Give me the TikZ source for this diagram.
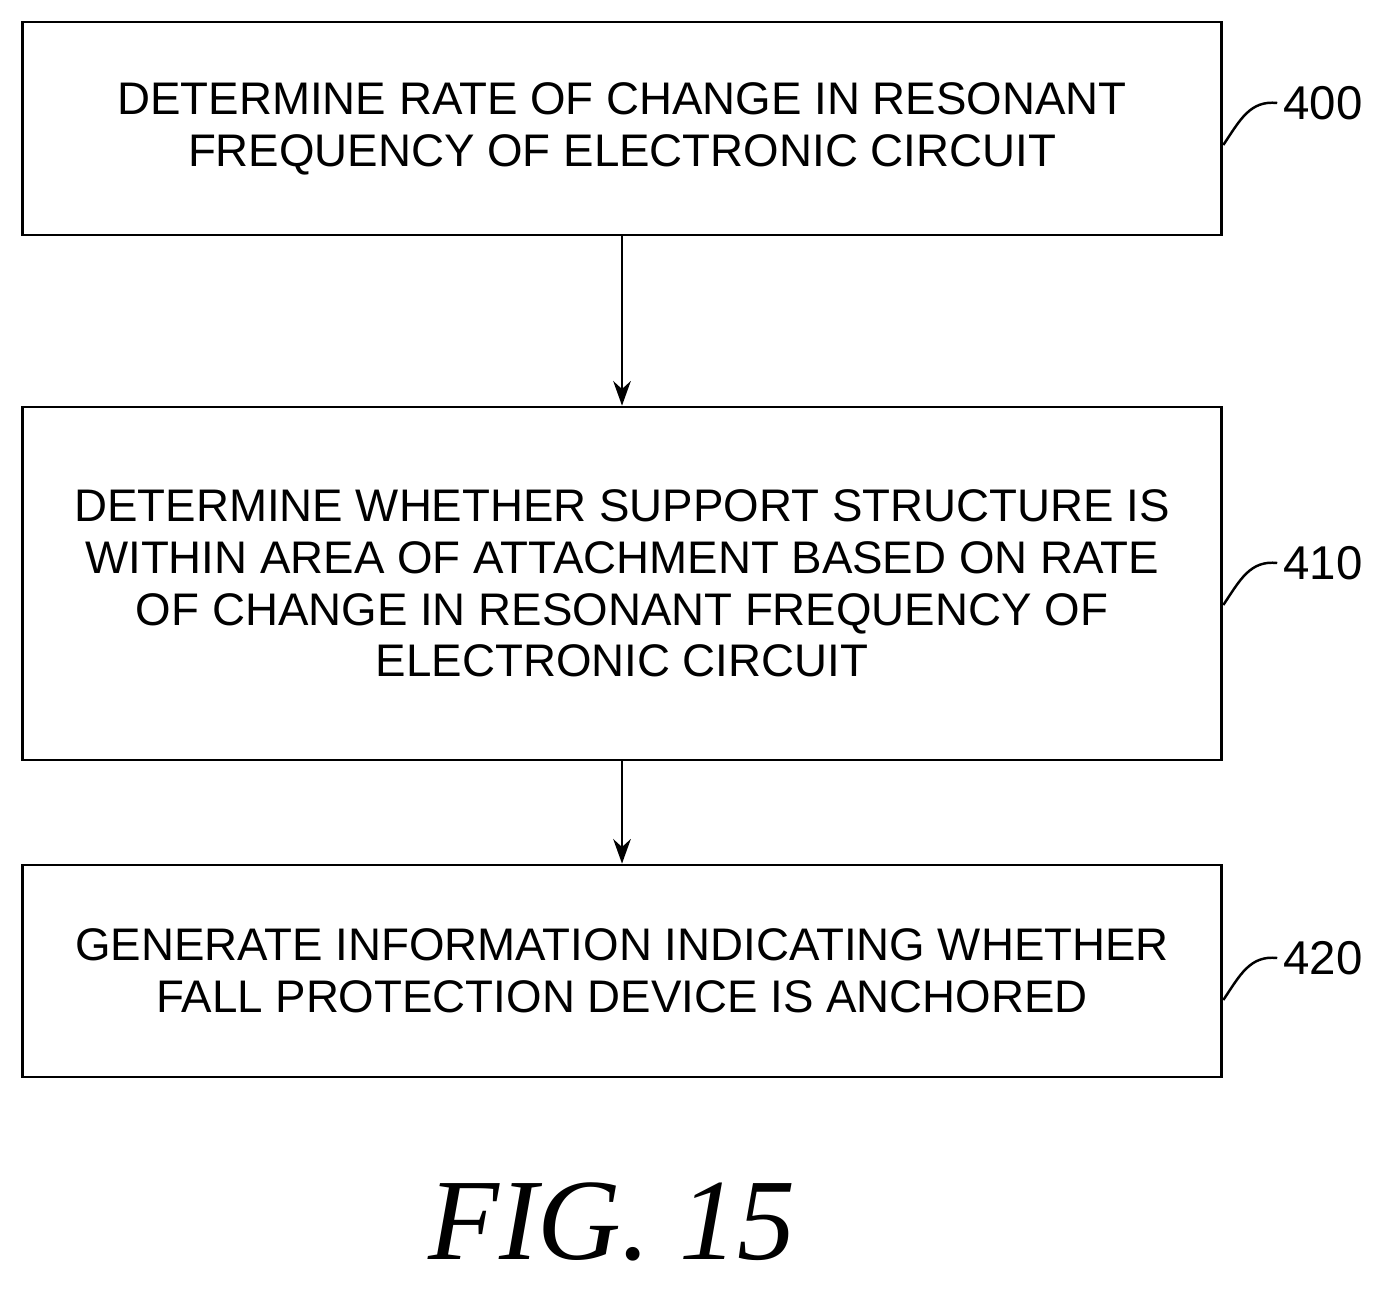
\documentclass[tikz,border=0pt]{standalone}
\usepackage{fontspec}
\setmainfont{Liberation Sans}
\newfontfamily\figfont{Liberation Serif}
\usetikzlibrary{arrows.meta}
\begin{document}
\begin{tikzpicture}[
		x=0.02cm,y=-0.02cm,
		stage/.style = {draw, line width=1.6pt, minimum width=24cm, align=center,
			font=\fontsize{26}{29.5}\selectfont, inner sep=0pt},
		flow/.style = {-{Stealth[length=14pt,width=10pt]}, line width=1.4pt},
		tag/.style = {font=\fontsize{27}{27}\selectfont},
		lead/.style = {line width=1.4pt}
	]
	\useasboundingbox (0,0) rectangle (1381,1296);
	\node (s400) [stage, minimum height=4.26cm] at (622,128.5) {DETERMINE RATE OF CHANGE IN RESONANT\\FREQUENCY OF ELECTRONIC CIRCUIT};
	\node (s410) [stage, minimum height=7.06cm] at (622,583.5) {DETERMINE WHETHER SUPPORT STRUCTURE IS\\WITHIN AREA OF ATTACHMENT BASED ON RATE\\OF CHANGE IN RESONANT FREQUENCY OF\\ELECTRONIC CIRCUIT};
	\node (s420) [stage, minimum height=4.24cm] at (622,971) {GENERATE INFORMATION INDICATING WHETHER\\FALL PROTECTION DEVICE IS ANCHORED};
	\node (l400) [tag] at (1323,103) {400};
	\node (l410) [tag] at (1323,563) {410};
	\node (l420) [tag] at (1323,958) {420};
	\node (fig) at (612,1222) {\figfont\itshape\fontsize{66}{66}\selectfont FIG. 15};

	\draw [flow] (s400) -- (s410);
	\draw [flow] (s410) -- (s420);
	\draw [lead] (s400.east |- 0,145) .. controls (1240,120) and (1250,100) .. (l400.west);
	\draw [lead] (s410.east |- 0,605) .. controls (1240,580) and (1250,560) .. (l410.west);
	\draw [lead] (s420.east |- 0,1000) .. controls (1240,975) and (1250,955) .. (l420.west);
\end{tikzpicture}
\end{document}
